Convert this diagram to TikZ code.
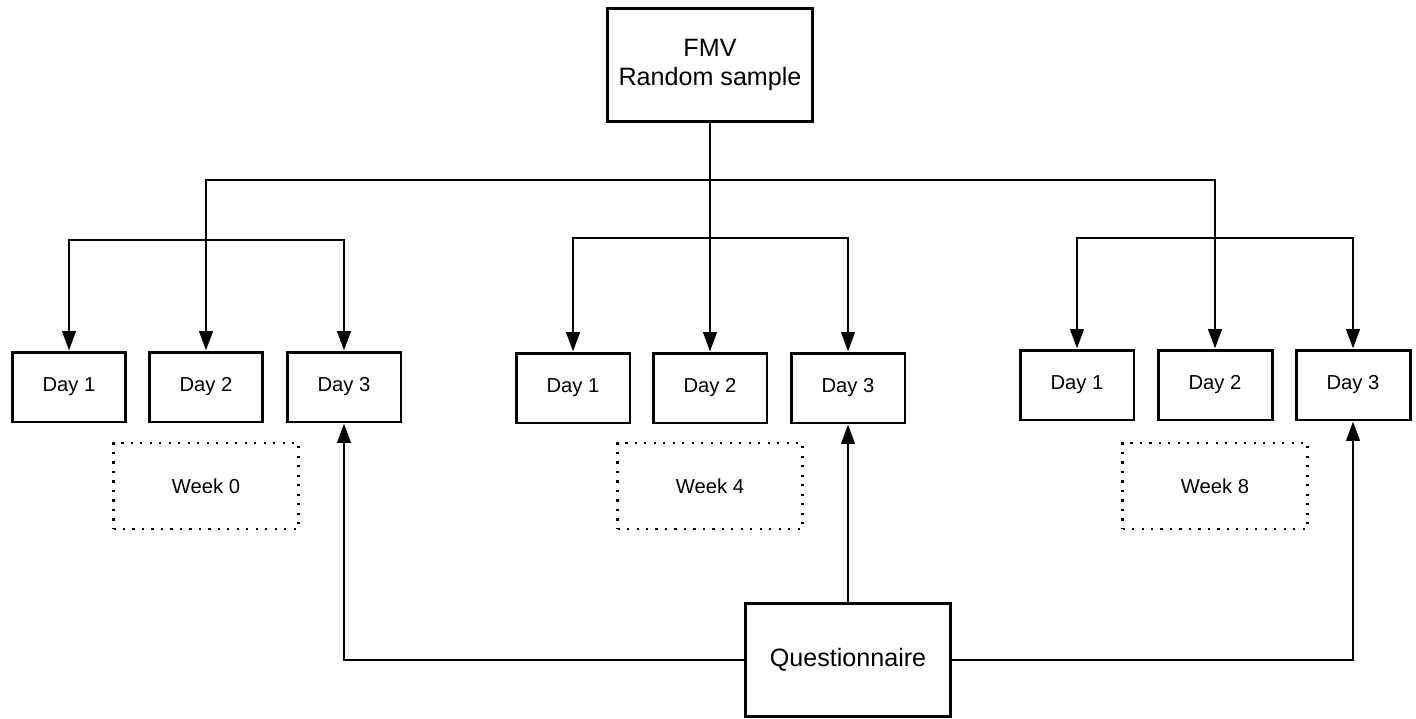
\documentclass[tikz,border=0pt]{standalone}
\usepackage{fontspec}
\setmainfont{Liberation Sans}
\usetikzlibrary{arrows.meta}

\begin{document}
\begin{tikzpicture}[x=0.02cm, y=-0.02cm, auto,
    day/.style ={rectangle, draw, line width=1.7pt, minimum width=2.28cm, minimum height=1.4cm, font=\fontsize{11.5}{14}\selectfont},
    big/.style ={rectangle, draw, line width=1.7pt, minimum width=4.1cm, minimum height=2.26cm, align=center, font=\fontsize{14.3}{17}\selectfont},
    week/.style ={rectangle, draw, line width=1.4pt, dash pattern=on 1.2pt off 4.2pt, minimum width=3.7cm, minimum height=1.72cm, font=\fontsize{11.5}{14}\selectfont},
    link/.style ={line width=1.6pt, -{Triangle[length=3.9mm, width=2.7mm]}},
    both/.style ={line width=1.6pt, {Triangle[length=3.9mm, width=2.7mm]}-{Triangle[length=3.9mm, width=2.7mm]}}]
   \useasboundingbox (0,0) rectangle (1416,719);
   \node[big] (F) at (710,65)  {FMV\\Random sample};
   % week 0
   \node[day] (A1) at (69,387)  {Day 1};
   \node[day] (A2) at (206,387)  {Day 2};
   \node[day] (A3) at (344,387)  {Day 3};
   \node[week] (W0) at (206,486)  {Week 0};
   % week 4
   \node[day] (B1) at (573,388)  {Day 1};
   \node[day] (B2) at (710,388)  {Day 2};
   \node[day] (B3) at (848,388)  {Day 3};
   \node[week] (W4) at (710,486)  {Week 4};
   % week 8
   \node[day] (C1) at (1077,385)  {Day 1};
   \node[day] (C2) at (1215,385)  {Day 2};
   \node[day] (C3) at (1353,385)  {Day 3};
   \node[week] (W8) at (1215,486)  {Week 8};
   \node[big] (Q) at (848,660)  {Questionnaire};
   \coordinate (H) at (710,180);
   \coordinate (a) at (206,240);
   \coordinate (b) at (710,238);
   \coordinate (c) at (1215,238);
   \draw[line width=1.6pt] (F) to (H);
   \draw[link] (H) to (B2);
   \draw[link] (H) -| (A2);
   \draw[link] (H) -| (C2);
   \draw[both] (A1.north) |- (a) -| (A3.north);
   \draw[both] (B1.north) |- (b) -| (B3.north);
   \draw[both] (C1.north) |- (c) -| (C3.north);
   \draw[link] (Q) to (B3);
      \draw[link] (Q.west) -| (A3.south);
      \draw[link] (Q.east) -| (C3.south);
 \end{tikzpicture}
\end{document}
